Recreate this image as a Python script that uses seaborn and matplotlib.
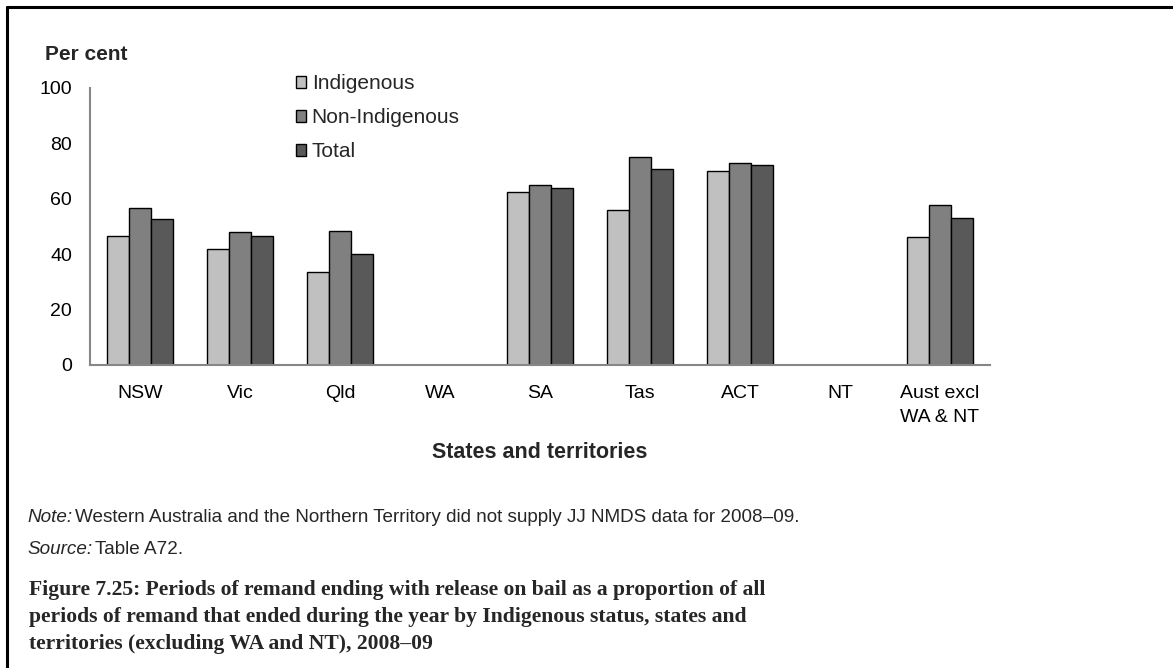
import numpy as np
import pandas as pd
import matplotlib
matplotlib.use("Agg")
import matplotlib.pyplot as plt
from matplotlib.lines import Line2D
import seaborn as sns

# Data (WA and NT not supplied)
states = ["NSW", "Vic", "Qld", "WA", "SA", "Tas", "ACT", "NT", "Aust excl\nWA & NT"]
indigenous = [46.5, 42.0, 33.7, np.nan, 62.3, 56.1, 70.0, np.nan, 46.1]
non_indigenous = [56.8, 48.0, 48.5, np.nan, 65.1, 75.2, 73.0, np.nan, 57.8]
total = [52.8, 46.6, 40.0, np.nan, 63.8, 70.8, 72.3, np.nan, 53.2]
series_names = ["Indigenous", "Non-Indigenous", "Total"]
colors = ["#c0c0c0", "#808080", "#595959"]

df = pd.DataFrame({"State": states, "Indigenous": indigenous,
                   "Non-Indigenous": non_indigenous, "Total": total})
long_df = df.melt(id_vars="State", var_name="Status", value_name="Per cent").dropna()

sns.set_style("white")
plt.rcParams["font.family"] = ["Liberation Sans", "DejaVu Sans"]

W, H = 1173, 668
fig = plt.figure(figsize=(W / 100, H / 100), dpi=100)
ax = fig.add_axes([90 / W, 1 - 365 / H, 900 / W, 277 / H])

sns.barplot(data=long_df, x="State", y="Per cent", hue="Status", order=states,
            hue_order=series_names, palette=colors, width=0.66, errorbar=None,
            edgecolor="black", linewidth=1.0, ax=ax)

ax.set_xlim(-0.5, len(states) - 0.5)
ax.set_ylim(0, 100)
ax.set_yticks(range(0, 101, 20))
ax.set_ylabel("")
ax.set_xlabel("States and territories", fontsize=15.5, fontweight="bold", labelpad=12)
ax.tick_params(axis="both", labelsize=14, colors="#868686", labelcolor="black",
               direction="out", length=4.5, width=1.5)
ax.tick_params(axis="y", pad=8.5)
ax.tick_params(axis="x", pad=10)
for lbl in ax.get_xticklabels():
    lbl.set_linespacing(1.5)
sns.despine(ax=ax)
for side in ["left", "bottom"]:
    ax.spines[side].set_color("#868686")
    ax.spines[side].set_linewidth(1.5)

handles, labels = ax.get_legend_handles_labels()
ax.legend(handles, labels, loc="upper left", bbox_to_anchor=(296 / W, 1 - 74 / H),
          bbox_transform=fig.transFigure, frameon=False, fontsize=15,
          handlelength=0.5, handleheight=0.5, handletextpad=0.25,
          labelspacing=0.72, borderpad=0, borderaxespad=0)

fig.text(45 / W, 1 - 54 / H, "Per cent", fontsize=15, fontweight="bold", va="center")

# Note and source lines
renderer = fig.canvas.get_renderer()
t = fig.text(27 / W, 1 - 517 / H, "Note:", fontsize=13.6, style="italic", va="center")
x1 = t.get_window_extent(renderer).x1
fig.text((x1 + 3) / W, 1 - 517 / H,
         "Western Australia and the Northern Territory did not supply JJ NMDS data for 2008\u201309.",
         fontsize=13.6, va="center")
t = fig.text(27 / W, 1 - 550 / H, "Source:", fontsize=13.6, style="italic", va="center")
x1 = t.get_window_extent(renderer).x1
fig.text((x1 + 3) / W, 1 - 550 / H, "Table A72.", fontsize=13.6, va="center")

title_lines = [
    "Figure 7.25: Periods of remand ending with release on bail as a proportion of all",
    "periods of remand that ended during the year by Indigenous status, states and",
    "territories (excluding WA and NT), 2008\u201309",
]
for i, line in enumerate(title_lines):
    fig.text(29 / W, 1 - (590 + 26.8 * i) / H, line, fontsize=15.6, fontweight="bold",
             family=["Liberation Serif", "DejaVu Serif"], va="center")

# Frame lines on top and left of the figure
fig.add_artist(Line2D([7 / W, 1], [1 - 7 / H, 1 - 7 / H], transform=fig.transFigure,
                      color="black", linewidth=2.2))
fig.add_artist(Line2D([7 / W, 7 / W], [0, 1 - 7 / H], transform=fig.transFigure,
                      color="black", linewidth=2.2))

fig.savefig("out.png", dpi=100)
